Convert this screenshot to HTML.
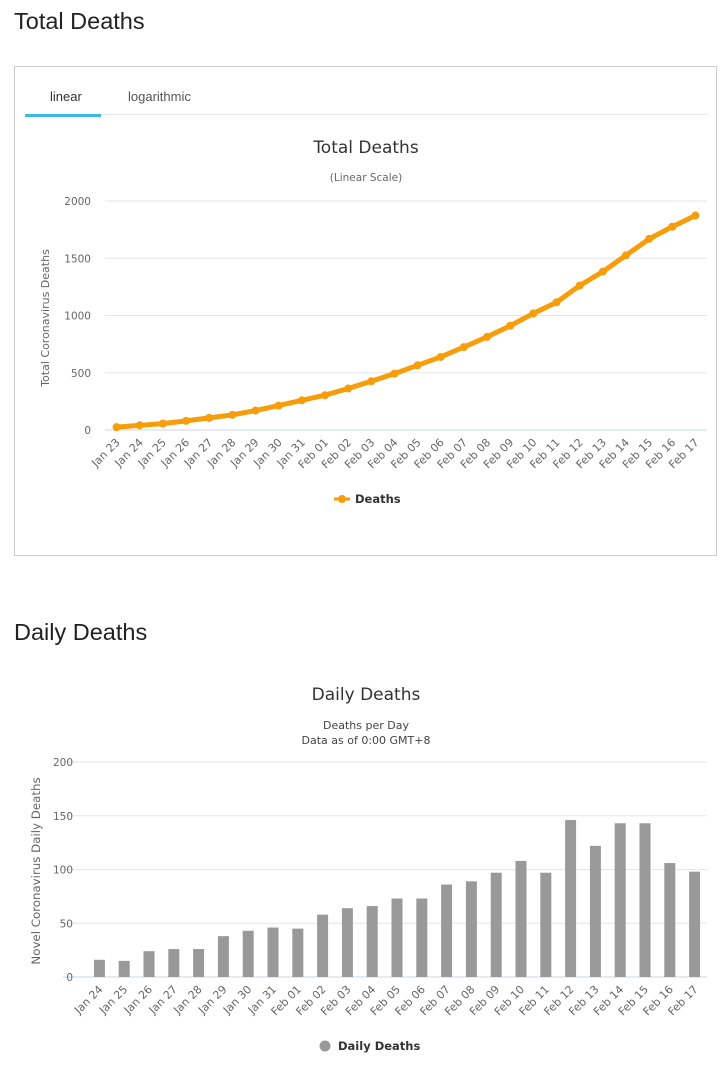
<!DOCTYPE html>
<html><head><meta charset="utf-8"><style>
body{margin:0;width:727px;height:1065px;background:#fff;font-family:"Liberation Sans",sans-serif;position:relative;overflow:hidden}
.h{position:absolute;left:14px;font-size:23.5px;color:#222;margin:0;font-weight:normal}
#box{position:absolute;left:14px;top:66px;width:701px;height:488px;border:1px solid #ccc}
.tab{position:absolute;top:22px;font-size:13px;color:#555}
svg text{font-family:"DejaVu Sans","Liberation Sans",sans-serif}
</style></head><body>
<h2 class="h" style="top:8px">Total Deaths</h2>
<div id="box">
<div class="tab" style="left:35px;color:#333">linear</div>
<div class="tab" style="left:113px">logarithmic</div>
<div style="position:absolute;left:86px;top:47px;width:606px;height:1px;background:#e6e6e6"></div>
<div style="position:absolute;left:10px;top:47px;width:76px;height:3px;background:#3cb8e8"></div>
</div>
<svg id="c1" width="727" height="560" style="position:absolute;left:0;top:0"></svg>
<h2 class="h" style="top:619px">Daily Deaths</h2>
<svg id="c2" width="727" height="1065" style="position:absolute;left:0;top:0"></svg>
<script>
const totalDates=["Jan 23","Jan 24","Jan 25","Jan 26","Jan 27","Jan 28","Jan 29","Jan 30","Jan 31","Feb 01","Feb 02","Feb 03","Feb 04","Feb 05","Feb 06","Feb 07","Feb 08","Feb 09","Feb 10","Feb 11","Feb 12","Feb 13","Feb 14","Feb 15","Feb 16","Feb 17"];
const totalDeaths=[25,41,56,80,106,132,170,213,259,304,362,426,492,565,638,724,813,910,1018,1115,1261,1383,1526,1669,1775,1873];
const totalTicks=[0,500,1000,1500,2000];
const dailyDates=["Jan 24","Jan 25","Jan 26","Jan 27","Jan 28","Jan 29","Jan 30","Jan 31","Feb 01","Feb 02","Feb 03","Feb 04","Feb 05","Feb 06","Feb 07","Feb 08","Feb 09","Feb 10","Feb 11","Feb 12","Feb 13","Feb 14","Feb 15","Feb 16","Feb 17"];
const dailyDeaths=[16,15,24,26,26,38,43,46,45,58,64,66,73,73,86,89,97,108,97,146,122,143,143,106,98];
const dailyTicks=[0,50,100,150,200];
const NS="http://www.w3.org/2000/svg";
function mk(p,t,a,txt){const e=document.createElementNS(NS,t);for(const k in a)e.setAttribute(k,a[k]);if(txt!=null)e.textContent=txt;p.appendChild(e);return e;}
(function(){
const s=document.getElementById('c1');
const x0=105,x1=707,y0=430,y1=201,max=2000;
const n=totalDates.length,step=(x1-x0)/n;
const X=i=>x0+step*(i+0.5),Y=v=>y0-(v/max)*(y0-y1);
let e=mk(s,'text',{x:366,y:153,'text-anchor':'middle','font-size':17,fill:'#333'},'Total Deaths');
e=mk(s,'text',{x:366,y:181,'text-anchor':'middle','font-size':10.5,fill:'#666'},'(Linear Scale)');
e=mk(s,'text',{transform:'translate(49,318) rotate(-90)','text-anchor':'middle','font-size':11,fill:'#666'},'Total Coronavirus Deaths');
totalTicks.forEach(t=>{const g=mk(s,'line',{x1:x0,x2:x1,y1:Y(t),y2:Y(t),stroke:t?'#e6e6e6':'#ccd6eb'});
const l=mk(s,'text',{x:91,y:Y(t)+4,'text-anchor':'end','font-size':10.5,fill:'#666'},t);});
totalDates.forEach((d,i)=>{const l=mk(s,'text',{transform:`translate(${X(i)+4},${y0+13}) rotate(-45)`,'text-anchor':'end','font-size':11,fill:'#666'},d);});
const pl=mk(s,'polyline',{points:totalDeaths.map((v,i)=>X(i)+','+Y(v)).join(' '),fill:'none',stroke:'#f79d0a','stroke-width':5,'stroke-linejoin':'round'});
totalDeaths.forEach((v,i)=>{const c=mk(s,'circle',{cx:X(i),cy:Y(v),r:4,fill:'#f79d0a'});});
const lg=mk(s,'g',{});
mk(lg,'line',{x1:334,x2:350,y1:499,y2:499,stroke:'#f79d0a','stroke-width':3});mk(lg,'circle',{cx:342,cy:499,r:4,fill:'#f79d0a'});
mk(lg,'text',{x:355,y:503,'font-size':11.5,'font-weight':'bold',fill:'#333'},'Deaths');
})();
(function(){
const s=document.getElementById('c2');
const x0=87,x1=707,y0=977,y1=762,max=200;
const n=dailyDates.length,step=(x1-x0)/n;
const X=i=>x0+step*(i+0.5),Y=v=>y0-(v/max)*(y0-y1);
let e=mk(s,'text',{x:366,y:700,'text-anchor':'middle','font-size':17,fill:'#333'},'Daily Deaths');
e=mk(s,'text',{x:366,y:729,'text-anchor':'middle','font-size':11,fill:'#444'},'Deaths per Day');
e=mk(s,'text',{x:366,y:744,'text-anchor':'middle','font-size':11,fill:'#444'},'Data as of 0:00 GMT+8');
e=mk(s,'text',{transform:'translate(40,871) rotate(-90)','text-anchor':'middle','font-size':11.8,fill:'#666'},'Novel Coronavirus Daily Deaths');
dailyTicks.forEach(t=>{const g=mk(s,'line',{x1:63,x2:x1,y1:Y(t),y2:Y(t),stroke:t?'#e6e6e6':'#ccd6eb'});
const l=mk(s,'text',{x:73,y:Y(t)+4,'text-anchor':'end','font-size':10.5,fill:'#666'},t);});
dailyDates.forEach((d,i)=>{const l=mk(s,'text',{transform:`translate(${X(i)+4},${y0+13}) rotate(-45)`,'text-anchor':'end','font-size':11,fill:'#666'},d);});
dailyDeaths.forEach((v,i)=>{const r=mk(s,'rect',{x:X(i)-5.5,y:Y(v),width:11,height:y0-Y(v),fill:'#999'});});
const lg=mk(s,'g',{});
mk(lg,'circle',{cx:325,cy:1046,r:5.5,fill:'#999'});
mk(lg,'text',{x:338,y:1050,'font-size':11.5,'font-weight':'bold',fill:'#333'},'Daily Deaths');
})();
</script>
</body></html>
